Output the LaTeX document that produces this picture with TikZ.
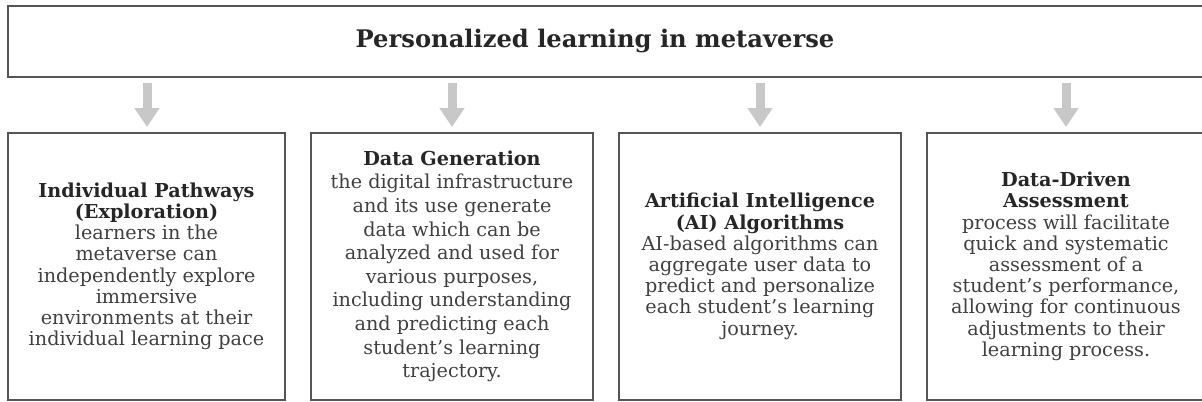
\documentclass[tikz,border=0pt]{standalone}
\usepackage{fontspec}
\setmainfont{DejaVu Serif}
\usetikzlibrary{arrows.meta,positioning}
\definecolor{framegray}{HTML}{555555}
\definecolor{arrowgray}{HTML}{C8C8C8}
\definecolor{bodygray}{HTML}{404040}
\tikzset
{
	topbox/.style = {rectangle, draw=framegray, line width=1pt, minimum width=602pt, minimum height=35.5pt},
	titletext/.style = {font=\fontsize{12.1}{14}\selectfont\bfseries, text=black!85},
	stepbox/.style = {rectangle, draw=framegray, line width=1pt, align=center, minimum height=133.25pt, inner sep=0pt, text=bodygray, font=\fontsize{9.6}{10.6}\selectfont},
	downarrow/.style = {draw=arrowgray, line width=4.5pt, -{Triangle[width=12pt,length=9.5pt]}}
}
\newcommand{\hd}[1]{\textbf{\color{black!85}#1}}

\begin{document}
\begin{tikzpicture}[x=0.5pt, y=-0.5pt]
\useasboundingbox (0,0) rectangle (1202,401);
\node[topbox] (frame) at (610,41.5) {};
\node[titletext] (title) at (595,41) {Personalized learning in metaverse};

\node[stepbox, minimum width=138.5pt] (pathways) at (146.5,266.25)
  {\hd{Individual Pathways}\\ \hd{(Exploration)}\\ learners in the\\ metaverse can\\ independently explore\\ immersive\\ environments at their\\ individual learning pace};
\node[stepbox, minimum width=141pt, font=\fontsize{9.6}{11.8}\selectfont] (datagen) at (452,266.25)
  {\hd{Data Generation}\\ the digital infrastructure\\ and its use generate\\ data which can be\\ analyzed and used for\\ various purposes,\\ including understanding\\ and predicting each\\ student’s learning\\ trajectory.};
\node[stepbox, minimum width=141pt] (aialgo) at (760,266.25)
  {\hd{Artificial Intelligence}\\ \hd{(AI) Algorithms}\\ AI-based algorithms can\\ aggregate user data to\\ predict and personalize\\ each student’s learning\\ journey.};
\node[stepbox, minimum width=139pt] (assess) at (1066,266.25)
  {\hd{Data-Driven}\\ \hd{Assessment}\\ process will facilitate\\ quick and systematic\\ assessment of a\\ student’s performance,\\ allowing for continuous\\ adjustments to their\\ learning process.};

\foreach \x/\n in {147/1,452/2,760/3,1066/4}
{
  \coordinate (from\n) at (\x,83);
  \coordinate (to\n) at (\x,127);
  \draw[downarrow] (from\n) -- (to\n);
}
\end{tikzpicture}
\end{document}
